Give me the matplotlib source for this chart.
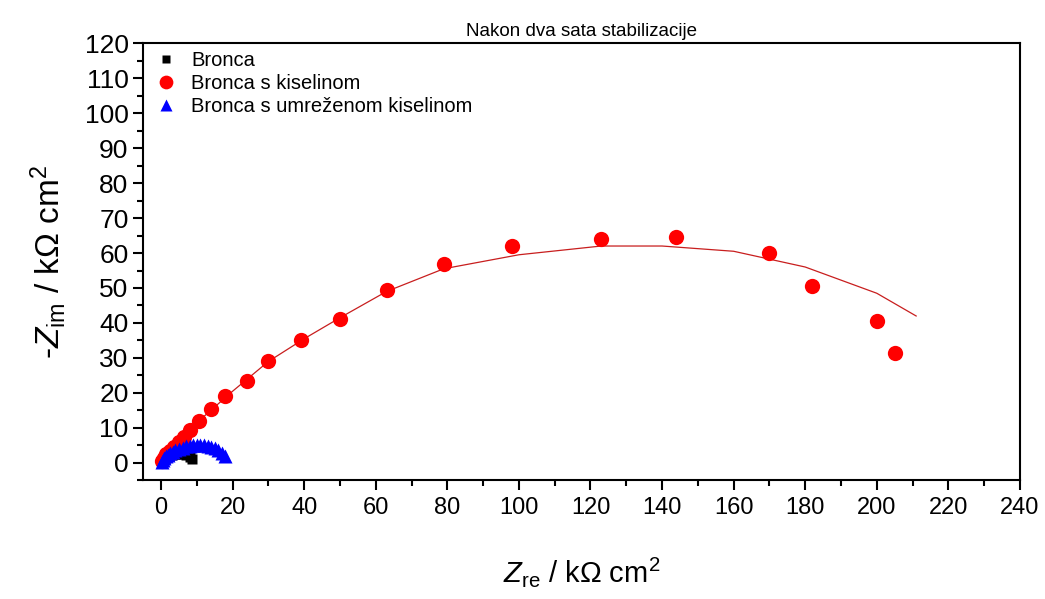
import matplotlib
matplotlib.use("Agg")
import matplotlib.pyplot as plt
from matplotlib import font_manager
from matplotlib.ticker import MultipleLocator

# Nyquist plot after two hours of stabilisation

names = {f.name for f in font_manager.fontManager.ttflist}
base = "Liberation Sans" if "Liberation Sans" in names else "DejaVu Sans"
plt.rcParams["font.family"] = [base, "DejaVu Sans"]
plt.rcParams["mathtext.fontset"] = "custom"
plt.rcParams["mathtext.rm"] = base
plt.rcParams["mathtext.it"] = base + ":italic"

# data (kOhm cm2)
bronca_re = [0.2, 0.6, 1.0, 1.5, 2.2, 3.0, 4.0, 5.0, 6.0, 7.0, 8.0, 8.6]
bronca_im = [0.3, 0.8, 1.2, 1.6, 2.0, 2.3, 2.5, 2.6, 2.5, 2.2, 1.6, 1.0]

kis_re = [0.3, 0.8, 1.5, 2.5, 3.5, 5.0, 6.5, 8.0, 10.5, 14, 18, 24, 30, 39, 50,
          63, 79, 98, 123, 144, 170, 182, 200, 205]
kis_im = [0.5, 1.5, 2.5, 3.5, 4.5, 6.0, 7.5, 9.5, 12.0, 15.5, 19, 23.5, 29, 35,
          41, 49.5, 57, 62, 64, 64.5, 60, 50.5, 40.7, 31.3]

fit_re = [0, 5, 10, 20, 30, 40, 50, 63, 79, 100, 123, 140, 160, 180, 200, 211]
fit_im = [0, 6, 11.5, 20.5, 29, 35.5, 41.5, 49, 55.5, 59.5, 62, 62, 60.5, 56, 48.5, 42]

umr_re = [0.2, 0.5, 0.9, 1.4, 2.0, 2.6, 3.3, 4.0, 5.0, 6.0, 7.0, 8.0, 9.0, 10.0,
          11.0, 12.0, 13.0, 14.0, 15.0, 16.0, 17.0, 18.0]
umr_im = [0.4, 0.9, 1.4, 1.9, 2.4, 2.8, 3.2, 3.6, 4.0, 4.4, 4.7, 4.9, 5.1, 5.2,
          5.2, 5.1, 4.9, 4.6, 4.2, 3.6, 2.9, 2.0]

fig, ax = plt.subplots(figsize=(10.45, 5.99), dpi=100)
fig.subplots_adjust(left=0.137, right=0.976, top=0.928, bottom=0.198)

ax.plot(fit_re, fit_im, color="#c81e1e", lw=0.9, zorder=2)
ax.plot(bronca_re, bronca_im, "s", color="black", ms=7, mec="none", zorder=3,
        label="Bronca")
ax.plot(kis_re, kis_im, "o", color="#ff0000", ms=11, mec="none", zorder=3,
        label="Bronca s kiselinom")
ax.plot(umr_re, umr_im, "^", color="#0000ff", ms=10, mec="none", zorder=4,
        label="Bronca s umreženom kiselinom")

ax.set_xlim(-5, 240)
ax.set_ylim(-5, 120)
ax.xaxis.set_major_locator(MultipleLocator(20))
ax.xaxis.set_minor_locator(MultipleLocator(10))
ax.yaxis.set_major_locator(MultipleLocator(10))
ax.yaxis.set_minor_locator(MultipleLocator(5))
ax.tick_params(which="major", direction="out", length=7, width=1.5,
               top=False, right=False, labelsize=17)
ax.tick_params(which="minor", direction="out", length=4, width=1.5,
               top=False, right=False)
ax.tick_params(axis="y", labelsize=19)
ax.tick_params(axis="x", pad=5)
for s in ax.spines.values():
    s.set_linewidth(1.5)

ax.set_xlabel(r"$\mathit{Z}_{\mathrm{re}}$ / kΩ cm$^2$", fontsize=21,
              labelpad=26)
ax.set_ylabel(r"-$\mathit{Z}_{\mathrm{im}}$ / kΩ cm$^2$", fontsize=24,
              labelpad=12)
ax.set_title("Nakon dva sata stabilizacije", fontsize=13.5, pad=5)

ax.legend(loc="upper left", frameon=False, fontsize=14.5, handletextpad=0.5,
          labelspacing=0.2, borderaxespad=0.2, borderpad=0.2,
          markerscale=0.9, handlelength=1.5)

fig.savefig("out.png", dpi=100)
